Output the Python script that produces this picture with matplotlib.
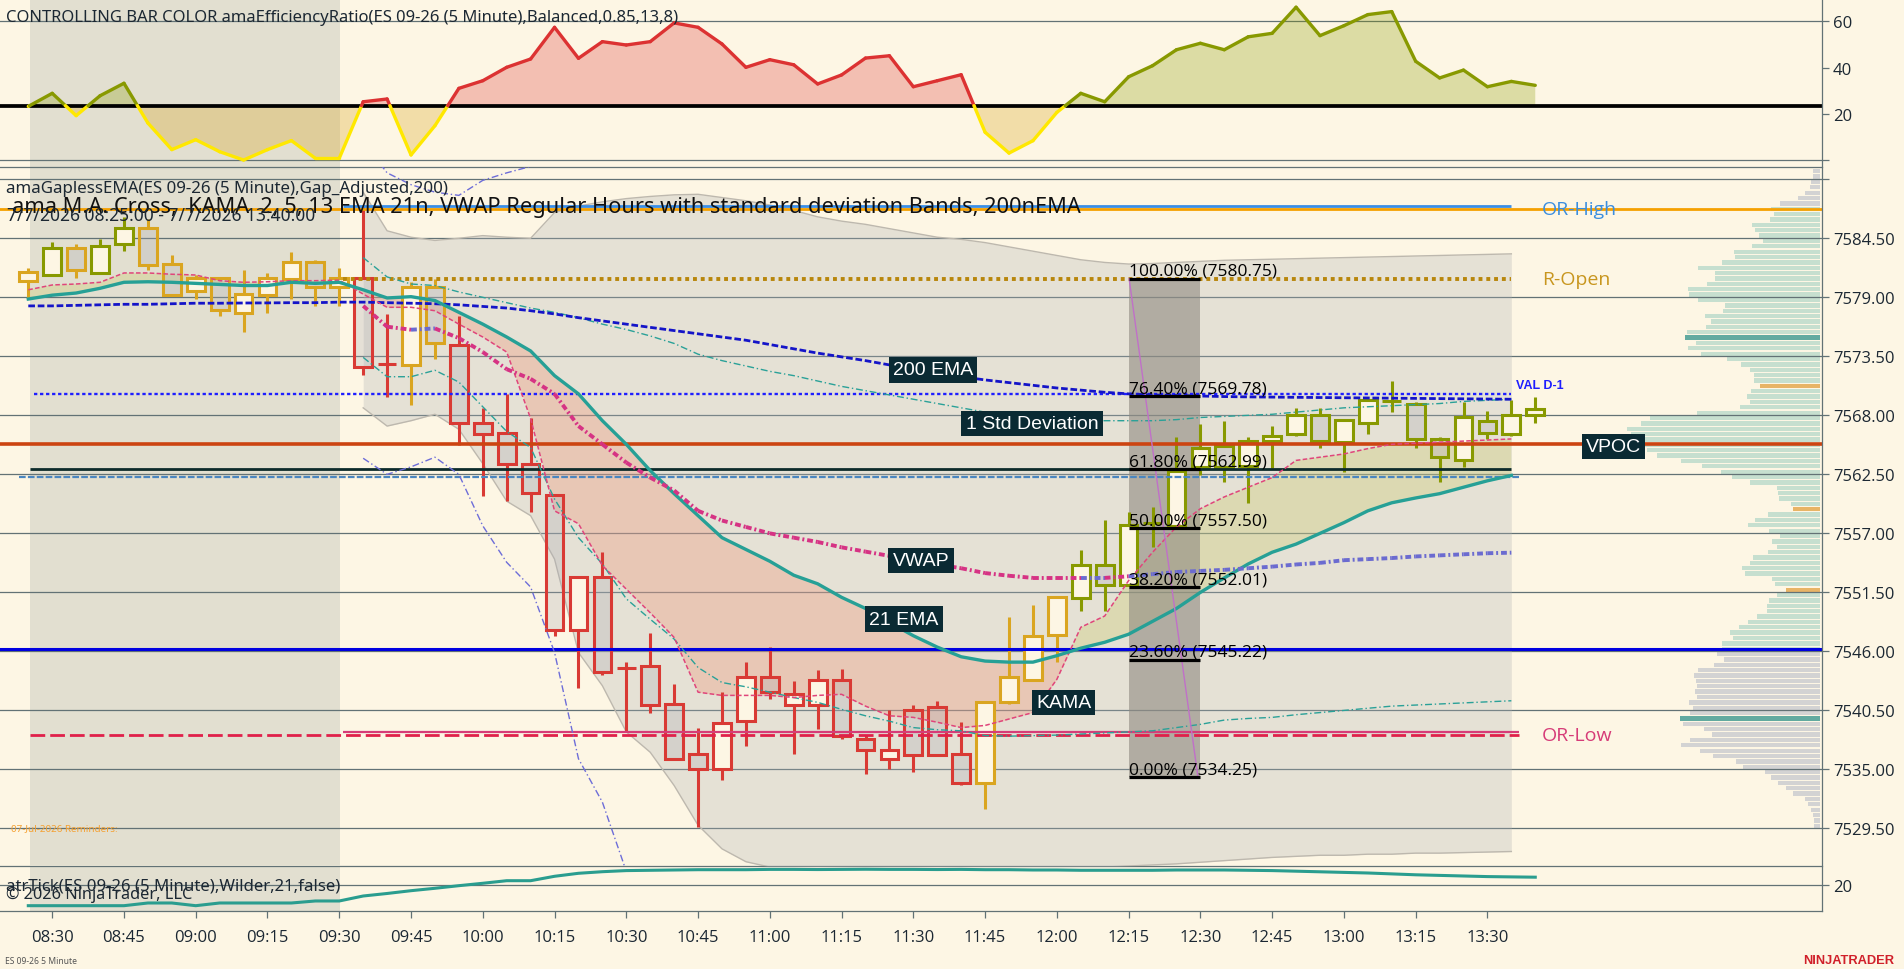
import matplotlib
matplotlib.use('Agg')
import matplotlib.pyplot as plt
import numpy as np
from matplotlib.collections import LineCollection
from matplotlib.patches import Rectangle
from matplotlib.lines import Line2D

plt.rcParams['font.family'] = ['Open Sans', 'DejaVu Sans']

# ---------------- DATA ----------------
time_labels = ['08:30', '08:45', '09:00', '09:15', '09:30', '09:45', '10:00', '10:15', '10:30',
               '10:45', '11:00', '11:15', '11:30', '11:45', '12:00', '12:15', '12:30', '12:45',
               '13:00', '13:15', '13:30']

bar_open = [7580.55, 7581.1, 7583.6, 7581.3, 7584.0, 7585.5, 7582.1, 7579.6, 7580.8, 7577.5,
            7579.2, 7580.7, 7582.3, 7580.0, 7580.8, 7572.8, 7572.7, 7580.0, 7574.6, 7567.3,
            7566.35, 7563.5, 7560.6, 7548.0, 7552.9, 7544.45, 7544.6, 7541.1, 7536.4, 7535.0,
            7539.5, 7543.6, 7541.0, 7541.0, 7543.3, 7537.8, 7536.0, 7540.55, 7540.8, 7536.4,
            7533.7, 7541.3, 7543.3, 7547.5, 7551.0, 7554.05, 7552.2, 7558.0, 7557.7, 7563.15,
            7565.1, 7563.25, 7565.64, 7566.26, 7568.0, 7565.54, 7567.26, 7569.3, 7569.05, 7565.8,
            7563.83, 7567.5, 7566.26, 7568.0]
bar_high = [7581.7, 7584.2, 7584.0, 7584.4, 7586.5, 7586.3, 7582.9, 7581.1, 7580.8, 7581.5,
            7581.3, 7583.25, 7582.5, 7581.7, 7587.6, 7577.45, 7580.4, 7580.7, 7577.3, 7568.66,
            7570.0, 7567.75, 7560.6, 7552.9, 7555.24, 7545.0, 7547.7, 7543.0, 7538.9, 7542.2,
            7545.0, 7546.45, 7543.2, 7544.26, 7544.4, 7538.2, 7540.5, 7541.0, 7541.4, 7539.45,
            7541.4, 7549.2, 7550.3, 7551.2, 7555.45, 7558.25, 7558.97, 7559.5, 7565.95, 7567.2,
            7567.44, 7565.95, 7567.0, 7568.66, 7568.66, 7567.56, 7569.4, 7571.17, 7569.2, 7565.95,
            7569.2, 7568.43, 7569.46, 7569.7]
bar_low = [7578.84, 7581.0, 7580.8, 7581.3, 7583.3, 7581.55, 7579.2, 7578.84, 7577.3, 7575.8,
           7577.5, 7578.84, 7578.2, 7578.2, 7571.8, 7569.74, 7569.0, 7573.25, 7565.2, 7560.5,
           7560.05, 7559.0, 7547.46, 7542.56, 7543.8, 7538.5, 7540.3, 7536.0, 7529.6, 7534.05,
           7537.2, 7541.6, 7536.4, 7538.8, 7537.8, 7534.6, 7535.0, 7534.8, 7536.3, 7533.55,
           7531.3, 7541.1, 7543.3, 7545.05, 7549.8, 7549.8, 7552.2, 7555.7, 7557.7, 7562.4,
           7561.76, 7559.8, 7563.06, 7566.05, 7565.0, 7562.75, 7566.26, 7568.28, 7565.0, 7561.76,
           7563.16, 7565.8, 7566.05, 7567.26]
bar_close = [7581.4, 7583.6, 7581.5, 7583.8, 7585.5, 7582.0, 7579.2, 7580.8, 7577.8, 7579.3,
             7580.8, 7582.3, 7580.0, 7580.8, 7572.5, 7572.8, 7580.0, 7574.7, 7567.3, 7566.3,
             7563.5, 7560.8, 7548.0, 7552.9, 7544.05, 7544.45, 7541.0, 7536.0, 7535.0, 7539.3,
             7543.6, 7542.25, 7542.0, 7543.3, 7538.15, 7536.8, 7536.8, 7536.3, 7536.3, 7533.7,
             7541.3, 7543.6, 7547.4, 7551.1, 7554.05, 7552.2, 7557.8, 7558.0, 7562.85, 7565.0,
             7563.15, 7565.64, 7566.05, 7568.0, 7565.64, 7567.56, 7569.4, 7569.3, 7565.8, 7564.1,
             7567.87, 7566.36, 7568.0, 7568.6]

er_vals = [23.2, 28.85, 19.2, 27.8, 33.2, 16.0, 4.5, 8.8, 3.6, 0.0,
           4.5, 8.4, 0.75, 0.75, 25.2, 26.4, 2.2, 14.85, 31.0, 34.3,
           40.1, 43.7, 57.4, 44.0, 51.2, 49.75, 51.2, 59.3, 57.4, 50.2,
           40.1, 43.4, 41.2, 32.9, 36.8, 44.1, 45.1, 31.7, 34.3, 36.9,
           12.0, 3.0, 8.35, 20.6, 28.85, 25.2, 36.0, 40.8, 47.7, 50.5,
           47.7, 53.3, 54.8, 66.1, 53.8, 58.1, 62.9, 64.2, 42.7, 35.5,
           38.9, 31.7, 34.0, 32.3]
trend_dir = [1] * 14 + [-1] * 26 + [1] * 24
er_threshold = 23.5

ema21 = [7578.84, 7579.2, 7579.4, 7579.84, 7580.4, 7580.45, 7580.4, 7580.3, 7580.2, 7580.1,
         7580.1, 7580.4, 7580.3, 7580.4, 7579.7, 7578.94, 7579.06, 7578.7, 7577.6, 7576.5,
         7575.3, 7574.0, 7571.7, 7570.0, 7567.5, 7565.3, 7562.85, 7560.7, 7558.65, 7556.6,
         7555.5, 7554.4, 7553.1, 7552.3, 7551.04, 7550.0, 7548.7, 7547.46, 7546.4, 7545.5,
         7545.1, 7545.0, 7545.0, 7545.6, 7546.3, 7546.85, 7547.6, 7548.8, 7550.0, 7551.5,
         7552.85, 7554.15, 7555.24, 7556.0, 7557.0, 7558.0, 7559.1, 7559.85, 7560.3, 7560.7,
         7561.3, 7561.9, 7562.4]
kama = [7579.7, 7580.15, 7580.24, 7580.4, 7581.27, 7581.27, 7581.15, 7581.08, 7580.55, 7580.4,
        7580.45, 7580.55, 7580.55, 7580.6, 7579.3, 7578.07, 7578.07, 7577.75, 7576.5, 7575.3,
        7573.9, 7567.7, 7559.1, 7557.9, 7554.0, 7551.8, 7549.6, 7547.3, 7542.2, 7541.9,
        7541.9, 7541.9, 7541.7, 7541.9, 7542.0, 7540.9, 7540.0, 7539.85, 7539.4, 7538.9,
        7539.1, 7539.7, 7540.3, 7543.4, 7548.25, 7549.3, 7552.6, 7555.24, 7557.6, 7559.3,
        7560.4, 7561.3, 7562.2, 7563.8, 7564.1, 7564.4, 7564.9, 7565.3, 7565.4, 7565.5,
        7565.6, 7565.7, 7565.8]
ema200 = [7578.2, 7578.2, 7578.25, 7578.3, 7578.35, 7578.35, 7578.4, 7578.45, 7578.45, 7578.47,
          7578.48, 7578.5, 7578.5, 7578.55, 7578.55, 7578.5, 7578.45, 7578.4, 7578.3, 7578.15,
          7578.0, 7577.75, 7577.45, 7577.1, 7576.8, 7576.5, 7576.2, 7575.9, 7575.6, 7575.3,
          7575.0, 7574.6, 7574.2, 7573.8, 7573.45, 7573.1, 7572.7, 7572.3, 7571.9, 7571.6,
          7571.3, 7571.05, 7570.8, 7570.55, 7570.35, 7570.15, 7570.0, 7569.9, 7569.85, 7569.8,
          7569.75, 7569.72, 7569.7, 7569.68, 7569.66, 7569.64, 7569.62, 7569.6, 7569.58, 7569.56,
          7569.54, 7569.52, 7569.5]

vwap_start = 14
vwap = [7578.2, 7576.26, 7575.98, 7576.1, 7575.2, 7573.9, 7572.3, 7571.4, 7570.0, 7567.0,
        7565.3, 7563.6, 7562.2, 7561.0, 7559.1, 7558.2, 7557.6, 7557.0, 7556.6, 7556.2,
        7555.7, 7555.3, 7554.9, 7554.5, 7554.1, 7553.75, 7553.3, 7553.05, 7552.85, 7552.85,
        7552.85, 7552.85, 7553.0, 7553.2, 7553.4, 7553.5, 7553.6, 7553.75, 7553.9, 7554.1,
        7554.25, 7554.5, 7554.6, 7554.7, 7554.85, 7554.95, 7555.05, 7555.15, 7555.2]
std1_upper = [7582.7, 7580.9, 7580.24, 7580.1, 7579.5, 7579.0, 7578.5, 7578.0, 7577.6, 7577.1,
              7576.5, 7576.0, 7575.4, 7574.7, 7573.7, 7573.1, 7572.6, 7572.1, 7571.7, 7571.2,
              7570.7, 7570.3, 7569.9, 7569.5, 7569.1, 7568.7, 7568.3, 7568.0, 7567.8, 7567.6,
              7567.5, 7567.5, 7567.5, 7567.5, 7567.6, 7567.8, 7567.9, 7568.0, 7568.1, 7568.3,
              7568.5, 7568.7, 7568.8, 7568.9, 7569.0, 7569.1, 7569.3, 7569.4, 7569.5]
std1_lower = [7573.4, 7571.6, 7571.6, 7572.2, 7571.1, 7568.8, 7566.5, 7565.0, 7560.2, 7556.6,
              7554.15, 7550.9, 7549.0, 7547.15, 7544.5, 7543.1, 7542.7, 7542.2, 7541.7, 7541.25,
              7540.6, 7540.0, 7539.5, 7538.9, 7538.7, 7538.6, 7538.15, 7538.1, 7538.15, 7538.2,
              7538.3, 7538.4, 7538.5, 7538.6, 7538.9, 7539.2, 7539.6, 7539.75, 7539.85, 7540.1,
              7540.3, 7540.5, 7540.7, 7540.9, 7541.0, 7541.1, 7541.2, 7541.3, 7541.4]
band_upper = [7588.8, 7585.2, 7584.6, 7584.3, 7584.5, 7584.75, 7584.6, 7584.5, 7586.9, 7587.5,
              7587.9, 7588.2, 7588.4, 7588.55, 7588.6, 7588.3, 7588.0, 7587.6, 7587.1, 7586.5,
              7586.1, 7585.8, 7585.4, 7585.0, 7584.6, 7584.4, 7584.1, 7583.7, 7583.3, 7582.9,
              7582.5, 7582.25, 7582.1, 7582.15, 7582.25, 7582.35, 7582.45, 7582.5, 7582.55, 7582.6,
              7582.65, 7582.7, 7582.75, 7582.8, 7582.85, 7582.9, 7582.95, 7583.0, 7583.05]
band_lower = [7568.7, 7567.0, 7567.5, 7568.1, 7566.7, 7563.5, 7560.0, 7558.65, 7554.6, 7545.9,
              7542.8, 7538.5, 7536.6, 7533.5, 7529.8, 7527.6, 7526.4, 7525.9, 7525.8, 7525.8,
              7525.8, 7525.8, 7525.8, 7525.8, 7525.8, 7525.8, 7525.8, 7525.8, 7525.8, 7525.8,
              7525.85, 7525.9, 7526.0, 7526.1, 7526.2, 7526.35, 7526.5, 7526.65, 7526.8, 7526.9,
              7527.0, 7527.0, 7527.1, 7527.1, 7527.2, 7527.2, 7527.25, 7527.3, 7527.35]
std2_upper = [7593.5, 7590.6, 7589.5, 7588.8, 7588.5, 7589.9, 7590.6, 7591.2, 7593.0]
std2_lower = [7564.0, 7562.5, 7563.2, 7564.1, 7562.5, 7557.7, 7554.3, 7552.0, 7545.9, 7536.0,
              7531.95, 7525.5, 7521.0]

atr_vals = [13.1, 13.1, 13.1, 13.1, 13.1, 14.0, 14.0, 13.1, 14.0, 14.0,
            14.0, 14.0, 14.67, 14.67, 16.33, 17.17, 18.1, 18.9, 19.77, 20.57,
            21.43, 21.43, 22.9, 23.9, 24.43, 24.8, 24.9, 25.0, 25.1, 25.1,
            25.1, 25.2, 25.2, 25.15, 25.2, 25.25, 25.2, 25.2, 25.15, 25.2,
            25.1, 25.1, 25.0, 25.0, 24.9, 24.9, 24.9, 24.9, 25.0, 25.0,
            25.0, 24.9, 24.8, 24.6, 24.4, 24.2, 24.0, 23.7, 23.4, 23.2,
            23.0, 22.8, 22.7, 22.6]

vp_price = np.arange(7590.75, 7529.5, -0.5)
vp_vol = [7.3, 7.3, 9.3, 10, 14.7, 21.7, 40, 49.3, 46, 50,
          68.3, 65, 60.7, 57.3, 68.3, 86, 85, 98.3, 121.7, 105,
          105, 112.7, 131.7, 130.7, 122.3, 95, 96.7, 115, 109.3, 114.3,
          132.7, 135, 124, 131.7, 119, 93.3, 79, 70, 65.7, 66,
          60, 69, 73.3, 70, 80, 122.7, 170, 179, 192.7, 189.3,
          185, 183, 172.7, 163.3, 139, 118, 98.7, 88, 70, 43.3,
          41.7, 40.7, 29.3, 27.3, 51.7, 65, 71.7, 50.7, 40, 48.3,
          43.3, 51.7, 66.7, 70, 78, 75, 47.7, 45, 34, 42.7,
          51, 53.3, 52.7, 63.3, 71.7, 81, 90, 87, 97.7, 97.7,
          103.3, 95.7, 105.7, 122, 126, 124, 123.3, 124.7, 123.3, 131.3,
          127.3, 130, 140, 136.7, 116, 108.3, 130, 139, 120, 107.3,
          84, 77.3, 55, 49, 41.7, 34, 26.7, 15, 12, 9.3,
          6.7, 6, 6]
vp_teal_prices = [7575.25, 7539.75]
vp_orange_prices = [7570.75, 7559.25, 7551.75]
vp_green_range = (7546.25, 7587.25)

or_high_line = 7587.23
or_high_blue = 7587.5
r_open = 7580.75
val_d1 = 7570.0
vpoc = 7565.3
dark_level = 7563.0
dash_level = 7562.3
blue_level = 7546.25
or_low_solid = 7538.5
or_low_dash = 7538.2

fib_high = 7580.75
fib_low = 7534.25
fib_pcts = [100.0, 76.4, 61.8, 50.0, 38.2, 23.6, 0.0]

price_ticks = [7529.5, 7535.0, 7540.5, 7546.0, 7551.5, 7557.0, 7562.5, 7568.0, 7573.5, 7579.0, 7584.5, 7590.0]

# ---------------- STYLE / LAYOUT ----------------
W, H = 1904, 970
BG = '#fdf6e4'
GRID = '#627275'
TXT = '#1c2833'
SESSION = '#e2dfd0'
OLIVE = '#889900'
GOLD = '#daa520'
RED = '#d93a34'
YEL = '#ffe800'

fig = plt.figure(figsize=(W / 100, H / 100), dpi=100)
fig.patch.set_facecolor(BG)


def px_axes(x0, y0, x1, y1, **kw):
    return fig.add_axes([x0 / W, 1 - y1 / H, (x1 - x0) / W, (y1 - y0) / H], **kw)


XL = (-1.183, 74.987)
ax_er = px_axes(0, 0, 1822, 168)
ax_vp = px_axes(0, 168, 1822, 867)
ax_p = px_axes(0, 168, 1822, 867)
ax_a = px_axes(0, 867, 1822, 912)

for a in (ax_er, ax_p, ax_a):
    a.set_xlim(*XL)
    a.set_facecolor(BG)
    for s in a.spines.values():
        s.set_visible(False)
    a.axvspan(0.054, 13.03, color=SESSION, zorder=0, lw=0)

ax_vp.set_zorder(0)
ax_p.set_zorder(1)
ax_p.patch.set_alpha(0)
ax_vp.set_facecolor(BG)
for s in ax_vp.spines.values():
    s.set_visible(False)
ax_vp.set_xticks([])
ax_vp.set_yticks([])

n = len(bar_open)
x = np.arange(n)
er = np.array(er_vals)
dr = np.array(trend_dir)


def bar_color(i):
    if er[i] < er_threshold:
        return GOLD
    return OLIVE if dr[i] > 0 else RED


def line_color(i):
    if er[i] < er_threshold:
        return YEL
    return OLIVE if dr[i] > 0 else '#dc3232'


# ---------------- ER panel ----------------
ax_er.set_ylim(-3.02, 69.65)
ax_er.fill_between(x, er, er_threshold, where=(er >= er_threshold) & (dr > 0), interpolate=True,
                   color=OLIVE, alpha=0.28, lw=0, zorder=1)
ax_er.fill_between(x, er, er_threshold, where=(er >= er_threshold) & (dr < 0), interpolate=True,
                   color='#dc3232', alpha=0.28, lw=0, zorder=1)
ax_er.fill_between(x, er, er_threshold, where=(er < er_threshold), interpolate=True,
                   color=GOLD, alpha=0.30, lw=0, zorder=1)
ax_er.axhline(er_threshold, color='black', lw=2.7, zorder=2)
segs, cols = [], []
for i in range(n - 1):
    y0, y1 = er[i], er[i + 1]
    if (y0 >= er_threshold) != (y1 >= er_threshold):
        xc = i + (er_threshold - y0) / (y1 - y0)
        segs.append([(i, y0), (xc, er_threshold)]); cols.append(line_color(i))
        segs.append([(xc, er_threshold), (i + 1, y1)]); cols.append(line_color(i + 1))
    else:
        segs.append([(i, y0), (i + 1, y1)]); cols.append(line_color(i + 1))
ax_er.add_collection(LineCollection(segs, colors=cols, linewidths=2.4, capstyle='round',
                                    joinstyle='round', zorder=3))
for v in (60, 0):
    ax_er.axhline(v, color=GRID, lw=0.9, zorder=0.5)
ax_er.yaxis.tick_right()
ax_er.set_yticks([0, 20, 40, 60])
ax_er.set_yticklabels(['', '20', '40', '60'])
ax_er.set_xticks([])

# ---------------- price panel ----------------
ax_p.set_ylim(7526.0, 7591.145)
ax_vp.set_ylim(7526.0, 7591.145)
for v in price_ticks:
    ax_p.axhline(v, color=GRID, lw=0.9, zorder=0.5)
ax_p.yaxis.tick_right()
ax_p.set_yticks(price_ticks)
ax_p.set_yticklabels([f'{v:.2f}' if v < 7590 else '' for v in price_ticks])
ax_p.set_xticks([])

# volume profile (drawn underneath in its own axes, growing leftwards from the price scale)
ax_vp.set_xlim(1822, 0)
vcols = []
for p in vp_price:
    if any(abs(p - q) < 0.01 for q in vp_teal_prices):
        vcols.append('#62aaa0')
    elif any(abs(p - q) < 0.01 for q in vp_orange_prices):
        vcols.append('#e8b466')
    elif vp_green_range[0] <= p <= vp_green_range[1]:
        vcols.append('#c6dfcf')
    else:
        vcols.append('#d3d3d3')
ax_vp.barh(vp_price, vp_vol, height=0.4, left=2, color=vcols, lw=0)

xb = np.arange(vwap_start, vwap_start + len(vwap))
# VWAP deviation band
ax_p.fill_between(xb, band_lower, band_upper, color='#b0b3b5', alpha=0.30, lw=0, zorder=1)
ax_p.plot(xb, band_upper, color='#bdb8ae', lw=1.0, zorder=1.1)
ax_p.plot(xb, band_lower, color='#bdb8ae', lw=1.0, zorder=1.1)

# KAMA / EMA ribbon
xe = np.arange(len(ema21))
ka = np.array(kama); em = np.array(ema21)
ax_p.fill_between(xe, ka, em, where=ka >= em, interpolate=True, color='#c8c864', alpha=0.30, lw=0, zorder=1.2)
ax_p.fill_between(xe, ka, em, where=ka < em, interpolate=True, color='#f08c6e', alpha=0.30, lw=0, zorder=1.2)

# Fibonacci box
fx0, fx1 = 46.02, 49.0
ax_p.add_patch(Rectangle((fx0, fib_low), fx1 - fx0, fib_high - fib_low, fc='#8f8a80', alpha=0.6,
                         lw=0, zorder=1.5))

# candles
for i in range(n):
    o, h, l, c = bar_open[i], bar_high[i], bar_low[i], bar_close[i]
    col = bar_color(i)
    top, bot = max(o, c), min(o, c)
    up = c >= o
    fc = BG if up else (0.667, 0.667, 0.706, 0.28)
    ax_p.vlines(i, top, h, color=col, lw=2.2, zorder=2.9)
    ax_p.vlines(i, l, bot, color=col, lw=2.2, zorder=2.9)
    if top - bot < 0.05:
        ax_p.hlines(o, i - 0.39, i + 0.39, color=col, lw=2.2, zorder=3)
    else:
        ax_p.add_patch(Rectangle((i - 0.37, bot), 0.74, top - bot, fc=fc, ec=col, lw=2.2, zorder=3))

# horizontal levels
ax_p.axhline(or_high_line, color='#f5a000', lw=2.0, zorder=4)
ax_p.hlines(or_high_blue, 13.16, 62.0, color='#3a8ee6', lw=2.0, zorder=4)
ax_p.hlines(r_open, 13.16, 62.0, color='#b8860b', lw=2.8, linestyles=[(0, (1, 1))], zorder=4)
ax_p.hlines(val_d1, 0.24, 62.0, color='#1e1eff', lw=1.7, linestyles=[(0, (1.4, 1.15))], zorder=4)
ax_p.axhline(vpoc, color='#cc4411', lw=2.6, zorder=4)
ax_p.hlines(dark_level, 0.07, 62.0, color='#0c2b2b', lw=2.0, zorder=4)
ax_p.hlines(dash_level, -0.39, 62.4, color='#4a86c0', lw=1.6, linestyles=[(0, (3, 1))], zorder=4)
ax_p.axhline(blue_level, color='#0000e0', lw=2.2, zorder=4)
ax_p.hlines(or_low_solid, 13.16, 62.3, color='#d63c78', lw=1.6, zorder=4)
ax_p.hlines(or_low_dash, 0.07, 62.3, color='#e0204a', lw=2.0, linestyles=[(0, (5.3, 1.8))], zorder=4)

# indicator lines
ax_p.plot(xb, std1_upper, color='#2aa198', lw=1.0, ls=(0, (5, 2, 1, 2)), zorder=4)
ax_p.plot(xb, std1_lower, color='#2aa198', lw=1.0, ls=(0, (5, 2, 1, 2)), zorder=4)
ax_p.plot(np.arange(vwap_start, vwap_start + len(std2_upper)), std2_upper, color='#6d6dd8', lw=1.0,
          ls=(0, (5, 2, 1, 2)), zorder=4)
ax_p.plot(np.arange(vwap_start, vwap_start + len(std2_lower)), std2_lower, color='#6d6dd8', lw=1.0,
          ls=(0, (5, 2, 1, 2)), zorder=4)
ax_p.plot(np.arange(len(ema200)), ema200, color='#1414c8', lw=2.0, ls=(0, (2.4, 1)), zorder=4.1)
ax_p.plot(xe, kama, color='#e0457b', lw=1.1, ls=(0, (3, 1.5)), zorder=4.1)
ax_p.plot(xe, ema21, color='#26a096', lw=2.4, zorder=4.2, solid_joinstyle='round')
for k in range(len(vwap) - 1):
    bi = vwap_start + k
    c = '#6b6bd0' if bar_close[bi] > vwap[k] else '#d63384'
    ax_p.plot([bi, bi + 1], [vwap[k], vwap[k + 1]], color=c, lw=2.8,
              ls=(0, (1.5, 0.75, 0.5, 0.75)), zorder=4.3)

# fib lines + labels
ax_p.plot([fx0, 48.9], [fib_high, fib_low], color='#c070c8', lw=1.0, zorder=4.4)
for pct in fib_pcts:
    lv = fib_low + pct / 100.0 * (fib_high - fib_low)
    ax_p.hlines(lv, fx0, fx1, color='black', lw=2.3, zorder=5)
    ax_p.text(fx0, lv + 0.35, f'{pct:.2f}% ({lv:.2f})', fontsize=12.5, color='black',
              ha='left', va='baseline', zorder=6)

# boxed labels
box = dict(boxstyle='square,pad=0.22', fc='#0a2a33', ec='none')
for txt, bx, by in [('200 EMA', 37.82, 7572.23), ('1 Std Deviation', 41.96, 7567.24),
                    ('VWAP', 37.32, 7554.47), ('21 EMA', 36.6, 7549.0),
                    ('KAMA', 43.28, 7541.24), ('VPOC', 66.27, 7565.1)]:
    ax_p.text(bx, by, txt, color='white', fontsize=14, family=['Liberation Sans', 'DejaVu Sans'],
              ha='center', va='center', bbox=box, zorder=7)

ax_p.text(63.28, or_high_line, 'OR-High', color='#3a8ee0', fontsize=14, ha='left', va='center', zorder=7)
ax_p.text(63.28, r_open, 'R-Open', color='#c8961e', fontsize=14, ha='left', va='center', zorder=7)
ax_p.text(63.28, or_low_dash, 'OR-Low', color='#d63c78', fontsize=14, ha='left', va='center', zorder=7)
ax_p.text(62.2, val_d1 + 0.8, 'VAL D-1', color='#1e1eff', fontsize=9, fontweight='bold',
          family=['Liberation Sans', 'DejaVu Sans'], ha='left', va='center', zorder=7)

# ---------------- ATR panel ----------------
ax_a.set_ylim(11.33, 26.33)
ax_a.axhline(20, color=GRID, lw=0.9, zorder=0.5)
ax_a.plot(x, atr_vals, color='#2a9d8f', lw=2.2, zorder=3)
ax_a.yaxis.tick_right()
ax_a.set_yticks([20])
ax_a.set_yticklabels(['20'])
ax_a.spines['top'].set_visible(True)
ax_a.spines['top'].set_color(GRID)
ax_a.spines['top'].set_linewidth(0.9)
ax_a.spines['bottom'].set_visible(True)
ax_a.spines['bottom'].set_color(GRID)
ax_a.spines['bottom'].set_linewidth(0.9)
ax_p.spines['top'].set_visible(True)
ax_p.spines['top'].set_color(GRID)
ax_p.spines['top'].set_linewidth(0.9)
ax_a.set_xticks(list(range(1, 62, 3)))
ax_a.set_xticklabels(time_labels)
ax_a.tick_params(axis='x', length=5, width=0.9, color=GRID, labelsize=12, labelcolor=TXT, pad=8)

for a in (ax_er, ax_p, ax_a):
    a.tick_params(axis='y', length=5, width=0.9, color=GRID, labelsize=12, labelcolor=TXT, pad=3)

fig.add_artist(Line2D([1822 / W, 1822 / W], [1 - 912 / H, 1], color=GRID, lw=0.9))

# ---------------- texts ----------------
renderer = fig.canvas.get_renderer()


def fit_text(x_px, y_px, s, target_w, ha='left', **kw):
    t = fig.text(x_px / W, 1 - y_px / H, s, fontsize=10, ha=ha, va='baseline', **kw)
    w = t.get_window_extent(renderer).width
    t.set_fontsize(10 * target_w / w)
    return t


fam = ['Noto Sans', 'DejaVu Sans']
fit_text(6, 21.7, 'CONTROLLING BAR COLOR amaEfficiencyRatio(ES 09-26 (5 Minute),Balanced,0.85,13,8)',
         674, color=TXT, family=fam)
fit_text(6, 192.7, 'amaGaplessEMA(ES 09-26 (5 Minute),Gap_Adjusted,200)', 443, color=TXT, family=fam)
fit_text(12, 213.3, 'ama M.A. Cross,  KAMA  2, 5, 13 EMA 21n, VWAP Regular Hours with standard deviation Bands, 200nEMA',
         1067, color='#111111', family=fam)
fit_text(6.7, 220.7, '7/7/2026 08:25:00 - 7/7/2026 13:40:00', 305, color=TXT, family=fam)
fit_text(10.7, 830.7, '07-Jul-2026 Reminders:', 106, color='#f5a030', family=fam)
fit_text(6, 891, 'atrTick(ES 09-26 (5 Minute),Wilder,21,false)', 335, color=TXT, family=fam)
fit_text(6, 899, '\u00a9 2026 NinjaTrader, LLC', 186, color=TXT, family=fam)
fit_text(4.7, 964, 'ES 09-26 5 Minute', 71.6, color='#555555', family=fam)
fit_text(1894, 964, 'NINJATRADER', 91, ha='right', color='#d0202a', fontweight='bold',
         family=['Liberation Sans', 'DejaVu Sans'])

fig.savefig('out.png', dpi=100, facecolor=BG)
